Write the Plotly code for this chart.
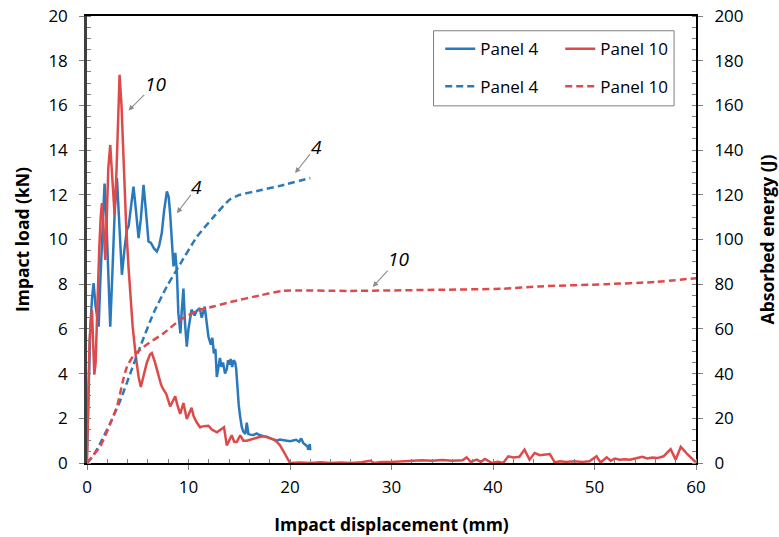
import plotly.graph_objects as go

# ---------------- data ----------------
# Panel 4 impact load (kN) vs displacement (mm)
p4_load_x = [0, 0.15, 0.33, 0.5, 0.65, 0.85, 1.15, 1.3, 1.47, 1.6, 1.73, 1.9, 2.1, 2.29, 2.5, 2.75,
             2.95, 3.15, 3.44, 3.7, 3.93, 4.1, 4.3, 4.58, 4.8, 5.08, 5.3, 5.57, 5.8, 6.06, 6.3, 6.6,
             6.88, 7.1, 7.37, 7.6, 7.87, 8.05, 8.2, 8.4, 8.52, 8.7, 8.85, 9.0, 9.2, 9.35, 9.5, 9.65,
             9.83, 10.0, 10.3, 10.6, 10.8, 11.1, 11.3, 11.6, 11.8, 11.96, 12.2, 12.35, 12.5, 12.65,
             12.79, 12.95, 13.1, 13.25, 13.4, 13.6, 13.77, 13.9, 14.0, 14.15, 14.3, 14.45, 14.6,
             14.7, 14.8, 14.95, 15.08, 15.25, 15.4, 15.6, 15.74, 15.9, 16.1, 16.4, 16.7, 17.0, 17.4,
             17.7, 18.1, 18.4, 18.7, 19.0, 19.3, 19.7, 20.0, 20.3, 20.6, 20.9, 21.1, 21.3, 21.5,
             21.7, 21.8, 21.95, 22.0]
p4_load_y = [0.5, 3.0, 6.1, 7.4, 8.05, 7.0, 6.1, 8.0, 10.1, 11.8, 12.5, 11.0, 8.0, 6.1, 8.5, 11.5,
             12.75, 11.2, 8.42, 9.6, 10.43, 10.6, 11.3, 12.37, 11.4, 10.06, 10.9, 12.45, 11.3, 9.91,
             9.85, 9.6, 9.46, 9.7, 10.3, 11.3, 12.15, 11.9, 11.1, 9.5, 8.8, 9.4, 8.6, 6.7, 5.8, 6.9,
             7.8, 6.3, 5.21, 6.0, 6.86, 6.6, 6.8, 6.93, 6.5, 7.0, 6.1, 5.66, 5.3, 5.6, 4.9, 5.1,
             3.85, 4.4, 4.7, 4.3, 4.5, 4.0, 4.2, 4.6, 4.4, 4.65, 4.3, 4.6, 4.5, 4.2, 3.3, 2.6, 2.1,
             1.6, 1.4, 1.3, 1.8, 1.3, 1.27, 1.25, 1.32, 1.25, 1.2, 1.18, 1.1, 1.05, 1.0, 1.05, 1.04,
             1.0, 0.97, 1.0, 1.04, 0.95, 1.1, 0.9, 0.8, 0.75, 0.6, 0.85, 0.57]

# Panel 10 impact load (kN) vs displacement (mm)
p10_load_x = [0, 0.1, 0.25, 0.49, 0.6, 0.72, 0.85, 1.0, 1.2, 1.35, 1.47, 1.6, 1.8, 1.95, 2.1, 2.29,
              2.45, 2.72, 2.9, 3.05, 3.21, 3.4, 3.6, 3.86, 4.1, 4.3, 4.5, 4.8, 5.08, 5.3, 5.6, 5.9,
              6.2, 6.39, 6.7, 7.0, 7.3, 7.54, 7.8, 8.19, 8.4, 8.69, 8.9, 9.18, 9.5, 9.83, 10.05,
              10.3, 10.5, 10.8, 11.14, 11.5, 11.96, 12.3, 12.8, 13.2, 13.5, 13.77, 14.0, 14.26,
              14.5, 14.75, 15.1, 15.4, 15.74, 16.1, 16.4, 16.9, 17.4, 18.0, 18.4, 18.7, 19.0, 19.3,
              19.6, 20.0, 21.0, 22.0, 23.0, 24.0, 25.0, 26.0, 27.0, 27.9, 28.3, 29.0, 30.0, 31.0,
              32.0, 33.0, 34.0, 35.0, 36.0, 37.0, 37.4, 37.8, 38.4, 38.8, 39.2, 39.9, 40.5, 41.0,
              41.5, 42.0, 42.6, 43.1, 43.6, 44.1, 44.6, 45.0, 45.6, 46.1, 46.6, 47.2, 48.0, 48.8,
              49.5, 50.2, 50.6, 51.2, 51.6, 52.0, 52.5, 53.0, 53.5, 54.0, 54.7, 55.2, 55.7, 56.2,
              56.8, 57.5, 58.0, 58.5, 59.2, 59.9, 60.0]
p10_load_y = [0, 2.5, 5.5, 6.86, 5.5, 3.95, 4.5, 7.0, 9.5, 11.0, 11.63, 10.8, 9.09, 11.0, 13.2, 14.23,
              13.2, 11.1, 13.0, 15.5, 17.37, 16.0, 13.3, 10.58, 8.7, 7.2, 6.1, 4.8, 3.87, 3.4, 3.9,
              4.5, 4.85, 4.92, 4.5, 4.0, 3.5, 3.28, 3.1, 2.53, 2.7, 2.98, 2.6, 2.2, 2.68, 1.97, 2.2,
              2.47, 2.1, 1.82, 1.6, 1.65, 1.67, 1.5, 1.37, 1.5, 1.6, 0.79, 1.0, 1.24, 0.95, 0.94,
              1.24, 1.0, 1.0, 1.05, 1.1, 1.15, 1.2, 1.1, 1.05, 0.94, 0.8, 0.57, 0.3, 0.0, 0.02, 0.0,
              0.03, 0.0, 0.02, 0.0, 0.03, 0.1, 0.0, 0.04, 0.05, 0.08, 0.1, 0.12, 0.1, 0.13, 0.1,
              0.12, 0.25, 0.05, 0.15, 0.05, 0.18, 0.0, 0.05, 0.0, 0.3, 0.25, 0.28, 0.6, 0.15, 0.45,
              0.35, 0.38, 0.4, 0.02, 0.08, 0.05, 0.08, 0.05, 0.08, 0.3, 0.02, 0.25, 0.1, 0.2, 0.15,
              0.17, 0.15, 0.2, 0.28, 0.2, 0.25, 0.22, 0.3, 0.62, 0.15, 0.72, 0.37, 0.07, 0.05]

# Absorbed energy (J) vs displacement (mm)
p4_energy_x = [0, 0.65, 1.31, 2.29, 3.28, 4.26, 5.24, 6.55, 7.87, 9.18, 10.8, 12.45, 14.1, 15.08,
               17.05, 19.0, 22.0]
p4_energy_y = [0, 3.5, 8.9, 17.9, 28, 40, 52, 67, 79, 89, 101, 110, 118, 120, 122, 124, 127.5]

p10_energy_x = [0, 0.65, 1.31, 2.29, 3.0, 3.5, 3.93, 4.58, 5.9, 7.53, 9.18, 10.8, 12.45, 14.1,
                17.05, 19.3, 25.9, 34.7, 41.0, 44.6, 51.1, 56.0, 60.0]
p10_energy_y = [0, 3.7, 7.5, 17.5, 26, 36, 43, 48, 53, 58, 64, 68, 70, 72, 75, 77, 77, 77.5, 78,
                79, 80, 81, 82.7]

# annotation labels: (text, arrow-head x, arrow-head y)
label_text = ["10", "4", "4", "10"]
label_x = [4.09, 8.85, 20.5, 28.15]
label_y = [15.77, 11.18, 12.97, 7.88]

series_names = ["Panel 4", "Panel 10"]

# ---------------- style ----------------
BLUE = "#2b79bd"
RED = "#de4a4a"
FONT = "Open Sans"

fig = go.Figure()

fig.add_trace(go.Scatter(x=p4_load_x, y=p4_load_y, mode="lines", name=series_names[0],
                         line=dict(color=BLUE, width=2.5), legend="legend"))
fig.add_trace(go.Scatter(x=p10_load_x, y=p10_load_y, mode="lines", name=series_names[1],
                         line=dict(color=RED, width=2.5), legend="legend"))
fig.add_trace(go.Scatter(x=p4_energy_x, y=p4_energy_y, mode="lines", name=series_names[0],
                         line=dict(color=BLUE, width=2.5, dash="7px,4px", shape="spline",
                                   smoothing=0.6),
                         yaxis="y2", legend="legend2"))
fig.add_trace(go.Scatter(x=p10_energy_x, y=p10_energy_y, mode="lines", name=series_names[1],
                         line=dict(color=RED, width=2.5, dash="7px,4px", shape="spline",
                                   smoothing=0.6),
                         yaxis="y2", legend="legend2"))

offsets = [(26.7, -26.7), (20, -26), (21, -26.6), (26, -28)]
for t, hx, hy, (ax, ay) in zip(label_text, label_x, label_y, offsets):
    fig.add_annotation(x=hx, y=hy, xref="x", yref="y", text=t, showarrow=True,
                       ax=ax, ay=ay, arrowhead=2, arrowsize=1, arrowwidth=1.1,
                       arrowcolor="#8c8c8c", borderpad=0,
                       font=dict(family=FONT, size=19, color="black", style="italic"))

# legend frame
fig.add_shape(type="rect", xref="paper", yref="paper", x0=0.569, x1=0.964, y0=0.799, y1=0.967,
              line=dict(color="#7f7f7f", width=1), fillcolor="white", layer="below")

tickfont = dict(family=FONT, size=17, color="black")
titlefont = dict(family=FONT, size=17.5, color="black", weight="bold")

legend_common = dict(orientation="h", xanchor="left", yanchor="middle",
                     bgcolor="rgba(0,0,0,0)", borderwidth=0, entrywidth=75,
                     font=dict(family=FONT, size=17, color="black"))

fig.update_layout(
    width=779, height=537,
    margin=dict(l=87, r=83, t=16, b=74, autoexpand=False),
    plot_bgcolor="white", paper_bgcolor="white",
    showlegend=True,
    legend=dict(x=0.580, y=0.9256, **legend_common),
    legend2=dict(x=0.580, y=0.842, **legend_common),
    xaxis=dict(range=[0, 60], dtick=10, tick0=0, showgrid=False, zeroline=False,
               automargin=False, ticklabeloverflow="allow",
               showline=True, linecolor="black", linewidth=2, mirror=True,
               ticks="outside", ticklen=5, tickcolor="#808080", tickwidth=1,
               ticklabelstandoff=3,
               minor=dict(dtick=2, ticks="inside", ticklen=4, tickcolor="#808080", tickwidth=1),
               tickfont=tickfont,
               title=dict(text="Impact displacement (mm)", font=titlefont, standoff=21)),
    yaxis=dict(range=[0, 20], dtick=2, tick0=0, showgrid=False, zeroline=False,
               automargin=False, ticklabeloverflow="allow",
               showline=True, linecolor="#404040", linewidth=2.5,
               ticks="outside", ticklen=5, tickcolor="#808080", tickwidth=1,
               ticklabelstandoff=8,
               minor=dict(dtick=0.5, ticks="inside", ticklen=4, tickcolor="#808080", tickwidth=1),
               tickfont=tickfont,
               title=dict(text="Impact load (kN)", font=titlefont, standoff=15)),
    yaxis2=dict(range=[0, 200], dtick=20, tick0=0, overlaying="y", side="right",
                automargin=False, ticklabeloverflow="allow",
                showgrid=False, zeroline=False,
                showline=True, linecolor="black", linewidth=2,
                ticks="outside", ticklen=5, tickcolor="#808080", tickwidth=1,
                ticklabelstandoff=8,
                minor=dict(dtick=5, ticks="inside", ticklen=4, tickcolor="#808080", tickwidth=1),
                tickfont=tickfont,
                title=dict(text="Absorbed energy (J)", font=titlefont, standoff=19)),
)

# remove the browser's default 8px body margin so the figure fills the window
fig.write_html("out.html", config={"displayModeBar": False},
               post_script="document.body.style.margin='0';document.body.style.overflow='hidden';")
